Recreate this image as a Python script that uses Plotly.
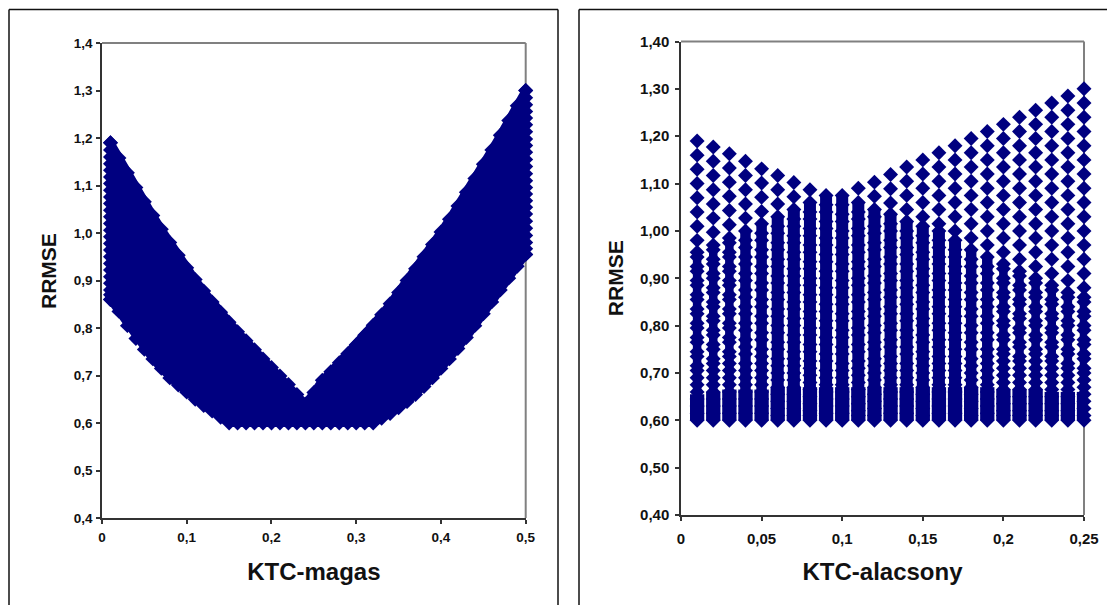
import plotly.graph_objects as go

W, H = 1107, 605
NAVY = "#000080"
FONT = "Liberation Sans, Arial, sans-serif"

# ---- left panel: KTC-magas -------------------------------------------------
magas_x = [0.01,0.02,0.03,0.04,0.05,0.06,0.07,0.08,0.09,0.10,
           0.11,0.12,0.13,0.14,0.15,0.16,0.17,0.18,0.19,0.20,
           0.21,0.22,0.23,0.24,0.25,0.26,0.27,0.28,0.29,0.30,
           0.31,0.32,0.33,0.34,0.35,0.36,0.37,0.38,0.39,0.40,
           0.41,0.42,0.43,0.44,0.45,0.46,0.47,0.48,0.49,0.50]
magas_upper = [1.19,1.158,1.127,1.096,1.066,1.037,1.008,0.98,0.953,0.927,
               0.902,0.878,0.855,0.833,0.812,0.792,0.773,0.754,0.735,0.717,
               0.699,0.681,0.66,0.64,0.664,0.69,0.708,0.727,0.746,0.765,
               0.785,0.806,0.828,0.851,0.875,0.90,0.925,0.95,0.976,1.002,
               1.029,1.057,1.086,1.115,1.145,1.175,1.206,1.237,1.268,1.30]
magas_lower = [0.86,0.835,0.805,0.778,0.755,0.735,0.715,0.695,0.68,0.665,
               0.65,0.637,0.625,0.612,0.60,0.60,0.60,0.60,0.60,0.60,
               0.60,0.60,0.60,0.60,0.60,0.60,0.60,0.60,0.60,0.60,
               0.60,0.60,0.61,0.62,0.632,0.645,0.66,0.677,0.695,0.715,
               0.735,0.757,0.78,0.805,0.83,0.855,0.88,0.905,0.93,0.955]
magas_first = [1.19,1.175,1.16,1.146,1.132,1.118,1.104,1.09,1.076,1.062,1.048,1.034,1.02,
               1.006,0.992,0.978,0.964,0.95,0.936,0.922,0.908,0.894,0.88,0.87,0.86]
magas_last = [1.30,1.285,1.27,1.256,1.242,1.228,1.213,1.198,1.184,1.17,1.155,1.14,1.125,
              1.11,1.096,1.082,1.068,1.054,1.04,1.025,1.01,0.995,0.98,0.967,0.955]

# ---- right panel: KTC-alacsony, one list of RRMSE values per column --------
alacsony_x = [0.01,0.02,0.03,0.04,0.05,0.06,0.07,0.08,0.09,0.10,0.11,0.12,0.13,
              0.14,0.15,0.16,0.17,0.18,0.19,0.20,0.21,0.22,0.23,0.24,0.25]
# value at which each column turns from separate diamonds into a packed stack
alacsony_packed_from = [0.955,0.97,0.985,1.0,1.015,1.03,1.045,1.06,1.075,1.075,1.06,1.045,1.035,
                        1.02,1.01,1.0,0.98,0.96,0.945,0.93,0.915,0.90,0.885,0.87,0.86]
# value below which the stack is completely solid down to the floor
alacsony_solid_from = [0.655,0.66,0.665,0.665,0.665,0.67,0.67,0.67,0.67,0.67,0.67,0.67,0.67,
                       0.67,0.67,0.67,0.67,0.67,0.67,0.665,0.665,0.665,0.66,0.66,0.66]
col01 = [1.19,1.16,1.13,1.10,1.07,1.04,1.01,0.98,0.955,0.945,0.925,0.915,0.895,0.885,0.865,0.855,0.835,0.825,0.805,0.795,0.775,0.765,0.745,0.735,0.715,0.705,0.69,0.675,0.66,0.645,0.63,0.615,0.60]
col02 = [1.177,1.147,1.117,1.087,1.057,1.027,0.997,0.97,0.96,0.94,0.93,0.91,0.90,0.88,0.87,0.85,0.84,0.82,0.81,0.79,0.78,0.76,0.75,0.73,0.72,0.705,0.69,0.675,0.66,0.645,0.63,0.615,0.60]
col03 = [1.163,1.133,1.103,1.073,1.043,1.013,0.985,0.975,0.955,0.945,0.925,0.915,0.895,0.885,0.865,0.855,0.835,0.825,0.805,0.795,0.775,0.765,0.745,0.735,0.72,0.705,0.69,0.675,0.66,0.645,0.63,0.615,0.60]
col04 = [1.147,1.117,1.087,1.057,1.027,1.0,0.98,0.965,0.945,0.93,0.91,0.895,0.875,0.86,0.84,0.825,0.805,0.79,0.77,0.755,0.74,0.72,0.705,0.69,0.675,0.66,0.645,0.63,0.615,0.60]
col05 = [1.131,1.101,1.071,1.041,1.015,0.995,0.98,0.96,0.945,0.925,0.91,0.89,0.875,0.855,0.84,0.82,0.805,0.785,0.77,0.75,0.735,0.72,0.705,0.69,0.675,0.66,0.645,0.63,0.615,0.60]
col06 = [1.117,1.087,1.057,1.03,1.01,0.995,0.975,0.96,0.94,0.925,0.905,0.89,0.87,0.855,0.835,0.82,0.80,0.785,0.765,0.75,0.73,0.715,0.70,0.685,0.67,0.655,0.64,0.625,0.61,0.60]
col07 = [1.102,1.072,1.045,1.025,1.01,0.99,0.975,0.955,0.94,0.92,0.905,0.885,0.87,0.85,0.835,0.815,0.80,0.78,0.765,0.745,0.73,0.715,0.70,0.685,0.67,0.655,0.64,0.625,0.61,0.60]
col08 = [1.087,1.06,1.04,1.025,1.005,0.99,0.97,0.955,0.935,0.92,0.90,0.885,0.865,0.85,0.83,0.815,0.795,0.78,0.76,0.745,0.725,0.71,0.695,0.68,0.665,0.65,0.635,0.62,0.61,0.60]
col09 = [1.075,1.055,1.04,1.02,1.005,0.985,0.97,0.95,0.935,0.915,0.90,0.88,0.865,0.845,0.83,0.81,0.795,0.775,0.76,0.74,0.725,0.705,0.69,0.675,0.66,0.645,0.63,0.615,0.60]
col10 = [1.075,1.055,1.035,1.02,1.0,0.985,0.965,0.95,0.93,0.915,0.895,0.88,0.86,0.845,0.825,0.81,0.79,0.775,0.755,0.74,0.72,0.705,0.69,0.675,0.66,0.645,0.63,0.615,0.60]
col11 = [1.09,1.06,1.04,1.025,1.005,0.99,0.97,0.955,0.935,0.92,0.90,0.885,0.865,0.85,0.83,0.815,0.795,0.78,0.76,0.745,0.725,0.71,0.695,0.68,0.665,0.65,0.635,0.62,0.61,0.60]
col12 = [1.103,1.073,1.045,1.03,1.01,0.995,0.975,0.96,0.94,0.925,0.905,0.89,0.87,0.855,0.835,0.82,0.80,0.785,0.765,0.75,0.73,0.715,0.70,0.685,0.67,0.655,0.64,0.625,0.61,0.60]
col13 = [1.119,1.089,1.059,1.035,1.015,1.0,0.98,0.965,0.945,0.93,0.91,0.895,0.875,0.86,0.84,0.825,0.805,0.79,0.77,0.755,0.735,0.72,0.705,0.69,0.675,0.66,0.645,0.63,0.615,0.60]
col14 = [1.135,1.105,1.075,1.045,1.02,1.0,0.985,0.965,0.95,0.93,0.915,0.895,0.88,0.86,0.845,0.825,0.81,0.79,0.775,0.755,0.74,0.72,0.705,0.69,0.675,0.66,0.645,0.63,0.615,0.60]
col15 = [1.15,1.12,1.09,1.06,1.03,1.01,0.99,0.975,0.955,0.94,0.92,0.905,0.885,0.87,0.85,0.835,0.815,0.80,0.78,0.765,0.745,0.73,0.715,0.70,0.685,0.67,0.655,0.64,0.625,0.61,0.60]
col16 = [1.165,1.135,1.105,1.075,1.045,1.015,1.0,0.98,0.965,0.945,0.93,0.91,0.895,0.875,0.86,0.84,0.825,0.805,0.79,0.77,0.755,0.735,0.72,0.705,0.69,0.675,0.66,0.645,0.63,0.615,0.60]
col17 = [1.18,1.15,1.12,1.09,1.06,1.03,1.0,0.98,0.96,0.945,0.925,0.91,0.89,0.875,0.855,0.84,0.82,0.805,0.785,0.77,0.75,0.735,0.72,0.705,0.69,0.675,0.66,0.645,0.63,0.615,0.60]
col18 = [1.195,1.165,1.135,1.105,1.075,1.045,1.015,0.985,0.96,0.94,0.925,0.905,0.89,0.87,0.855,0.835,0.82,0.80,0.785,0.765,0.75,0.73,0.715,0.70,0.685,0.67,0.655,0.64,0.625,0.61,0.60]
col19 = [1.21,1.18,1.15,1.12,1.09,1.06,1.03,1.0,0.97,0.945,0.925,0.91,0.89,0.875,0.855,0.84,0.82,0.805,0.785,0.77,0.75,0.735,0.72,0.705,0.69,0.675,0.66,0.645,0.63,0.615,0.60]
col20 = [1.225,1.195,1.165,1.135,1.105,1.075,1.045,1.015,0.985,0.955,0.93,0.92,0.90,0.89,0.87,0.86,0.84,0.83,0.81,0.80,0.78,0.77,0.75,0.74,0.725,0.71,0.695,0.68,0.665,0.65,0.635,0.62,0.61,0.60]
col21 = [1.24,1.21,1.18,1.15,1.12,1.09,1.06,1.03,1.0,0.97,0.94,0.915,0.905,0.885,0.875,0.855,0.845,0.825,0.815,0.795,0.785,0.765,0.755,0.735,0.725,0.71,0.695,0.68,0.665,0.65,0.635,0.62,0.61,0.60]
col22 = [1.255,1.225,1.195,1.165,1.135,1.105,1.075,1.045,1.015,0.985,0.955,0.925,0.90,0.89,0.87,0.86,0.84,0.83,0.81,0.80,0.78,0.77,0.75,0.74,0.725,0.71,0.695,0.68,0.665,0.65,0.635,0.62,0.61,0.60]
col23 = [1.27,1.24,1.21,1.18,1.15,1.12,1.09,1.06,1.03,1.0,0.97,0.94,0.91,0.885,0.875,0.855,0.845,0.825,0.815,0.795,0.785,0.765,0.755,0.735,0.725,0.71,0.695,0.68,0.665,0.65,0.635,0.62,0.61,0.60]
col24 = [1.285,1.255,1.225,1.195,1.165,1.135,1.105,1.075,1.045,1.015,0.985,0.955,0.925,0.895,0.87,0.86,0.84,0.83,0.81,0.80,0.78,0.77,0.75,0.74,0.72,0.71,0.695,0.68,0.665,0.65,0.635,0.62,0.61,0.60]
col25 = [1.30,1.27,1.24,1.21,1.18,1.15,1.12,1.09,1.06,1.03,1.0,0.97,0.94,0.91,0.88,0.86,0.85,0.83,0.82,0.80,0.79,0.77,0.76,0.74,0.73,0.71,0.70,0.685,0.67,0.655,0.64,0.625,0.61,0.60]
alacsony_cols = [col01,col02,col03,col04,col05,col06,col07,col08,col09,col10,col11,col12,col13,
                 col14,col15,col16,col17,col18,col19,col20,col21,col22,col23,col24,col25]
alacsony_floor = [0.60] * 25

# ---- tick labels -----------------------------------------------------------
left_xticks = [0, 0.1, 0.2, 0.3, 0.4, 0.5]
left_xlabels = ["0", "0,1", "0,2", "0,3", "0,4", "0,5"]
left_yticks = [0.4, 0.5, 0.6, 0.7, 0.8, 0.9, 1.0, 1.1, 1.2, 1.3, 1.4]
left_ylabels = ["0,4", "0,5", "0,6", "0,7", "0,8", "0,9", "1,0", "1,1", "1,2", "1,3", "1,4"]
right_xticks = [0, 0.05, 0.1, 0.15, 0.2, 0.25]
right_xlabels = ["0", "0,05", "0,1", "0,15", "0,2", "0,25"]
right_yticks = [0.4, 0.5, 0.6, 0.7, 0.8, 0.9, 1.0, 1.1, 1.2, 1.3, 1.4]
right_ylabels = ["0,40", "0,50", "0,60", "0,70", "0,80", "0,90", "1,00", "1,10", "1,20", "1,30", "1,40"]

MARKER = dict(symbol="diamond", size=11.5, color=NAVY, line=dict(width=0))

fig = go.Figure()
fig.add_trace(go.Scatter(x=magas_x, y=magas_lower, mode="lines+markers", marker=MARKER,
                         line=dict(width=8, color=NAVY),
                         cliponaxis=False, showlegend=False, xaxis="x", yaxis="y"))
fig.add_trace(go.Scatter(x=magas_x, y=magas_upper, mode="lines+markers", marker=MARKER,
                         line=dict(width=8, color=NAVY),
                         fill="tonexty", fillcolor=NAVY,
                         cliponaxis=False, showlegend=False, xaxis="x", yaxis="y"))
fig.add_trace(go.Scatter(x=[magas_x[0]] * len(magas_first), y=magas_first, mode="markers", marker=MARKER,
                         cliponaxis=False, showlegend=False, xaxis="x", yaxis="y"))
fig.add_trace(go.Scatter(x=[magas_x[-1]] * len(magas_last), y=magas_last, mode="markers", marker=MARKER,
                         cliponaxis=False, showlegend=False, xaxis="x", yaxis="y"))


def core_width(n):
    # outer columns keep a zigzag outline, the middle ones are nearly solid
    if n <= 3 or n >= 20:
        return 8.5
    if n in (4, 5, 18, 19):
        return 10.5
    return 12


for n, (xv, col, y_top, y_solid, y_bot) in enumerate(
        zip(alacsony_x, alacsony_cols, alacsony_packed_from, alacsony_solid_from, alacsony_floor), start=1):
    fig.add_trace(go.Scatter(x=[xv, xv], y=[y_top, y_bot], mode="lines",
                             line=dict(width=core_width(n), color=NAVY),
                             cliponaxis=False, showlegend=False, xaxis="x2", yaxis="y2"))
    fig.add_trace(go.Scatter(x=[xv, xv], y=[y_solid, y_bot], mode="lines",
                             line=dict(width=14.3, color=NAVY),
                             cliponaxis=False, showlegend=False, xaxis="x2", yaxis="y2"))
    fig.add_trace(go.Scatter(x=[xv] * len(col), y=col, mode="markers", marker=MARKER,
                             cliponaxis=False, showlegend=False, xaxis="x2", yaxis="y2"))


def axis(vals, labels, rng, dom, anchor, size, title, title_size, standoff, label_gap):
    return dict(
        range=rng, domain=dom, anchor=anchor,
        tickmode="array", tickvals=vals, ticktext=labels,
        ticks="outside", ticklen=4, tickwidth=1.5, tickcolor="#333333",
        showline=True, linecolor="#333333", linewidth=1.5,
        showgrid=False, zeroline=False, ticklabelstandoff=label_gap,
        tickfont=dict(family=FONT, size=size, color="#111111", weight="bold"),
        title=dict(text=title, standoff=standoff,
                   font=dict(family=FONT, size=title_size, color="#111111", weight="bold")),
        automargin=False,
    )


def px_dom_x(a, b):
    return [a / W, b / W]


def px_dom_y(top, bottom):
    return [1 - bottom / H, 1 - top / H]


LX, RX = (102, 525.7), (681, 1084)
LY, RY = (43, 518), (41.5, 515)

GRAY = dict(color="#808080", width=2)
BLACK = dict(color="#111111", width=1.5)
shapes = []
for xr, yr in (("x domain", "y domain"), ("x2 domain", "y2 domain")):
    shapes.append(dict(type="line", xref=xr, yref=yr, x0=0, x1=1, y0=1, y1=1, line=GRAY, layer="below"))
    shapes.append(dict(type="line", xref=xr, yref=yr, x0=1, x1=1, y0=0, y1=1, line=GRAY, layer="below"))
for x0, y0, x1, y1 in ((9, 605, 9, 9.5), (9, 9.5, 558, 9.5), (558, 9.5, 558, 605),
                       (579, 605, 579, 9.5), (579, 9.5, 1107, 9.5)):
    shapes.append(dict(type="line", xref="paper", yref="paper",
                       x0=x0 / W, x1=x1 / W, y0=1 - y0 / H, y1=1 - y1 / H, line=BLACK))

fig.update_layout(
    width=W, height=H, autosize=False,
    margin=dict(l=0, r=0, t=0, b=0),
    paper_bgcolor="white", plot_bgcolor="white",
    showlegend=False,
    xaxis=axis(left_xticks, left_xlabels, [0, 0.5], px_dom_x(*LX), "y", 13.5, "KTC-magas", 24, 19, 2),
    yaxis=axis(left_yticks, left_ylabels, [0.4, 1.4], px_dom_y(*LY), "x", 13.5, "", 21, 12, 1),
    xaxis2=axis(right_xticks, right_xlabels, [0, 0.25], px_dom_x(*RX), "y2", 15, "KTC-alacsony", 24, 17, 5),
    yaxis2=axis(right_yticks, right_ylabels, [0.4, 1.4], px_dom_y(*RY), "x2", 15, "RRMSE", 21, 11, 3),
    shapes=shapes,
    annotations=[dict(text="RRMSE", textangle=-90, showarrow=False,
                      xref="paper", yref="paper", x=48 / W, y=1 - 271 / H,
                      xanchor="center", yanchor="middle",
                      font=dict(family=FONT, size=21, color="#111111", weight="bold"))],
)

fig.write_html(
    "out.html",
    config={"displayModeBar": False},
    post_script="document.body.style.margin='0';document.body.style.overflow='hidden';window.dispatchEvent(new Event('resize'));",
)
